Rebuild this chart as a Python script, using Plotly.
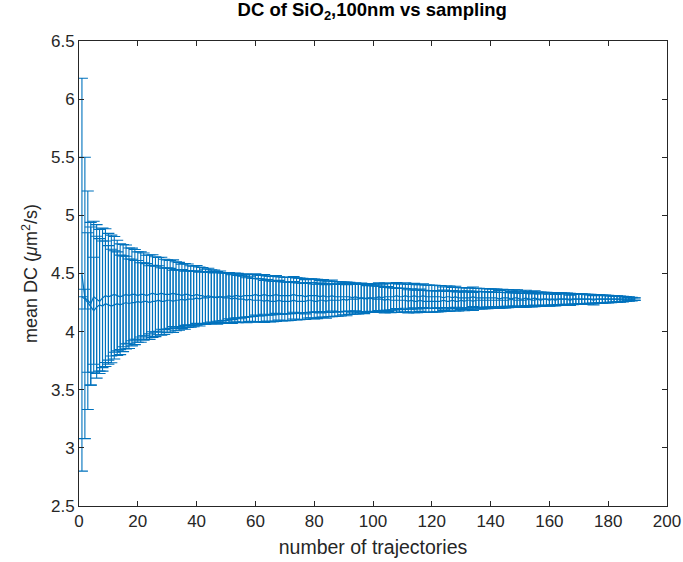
import plotly.graph_objects as go

# number of trajectories (x) for the two sampling sequences
n_traj = list(range(1, 190))

mean_a = [
    4.49, 4.29, 4.27, 4.24, 4.30, 4.28, 4.26, 4.29, 4.31, 4.30,
    4.31, 4.32, 4.31, 4.30, 4.31, 4.32, 4.31, 4.32, 4.32, 4.31,
    4.32, 4.32, 4.31, 4.32, 4.33, 4.32, 4.32, 4.33, 4.32, 4.32,
    4.32, 4.33, 4.32, 4.32, 4.31, 4.32, 4.32, 4.31, 4.31, 4.32,
    4.31, 4.31, 4.30, 4.31, 4.30, 4.30, 4.29, 4.30, 4.29, 4.29,
    4.29, 4.28, 4.29, 4.28, 4.28, 4.28, 4.27, 4.28, 4.27, 4.27,
    4.27, 4.27, 4.26, 4.27, 4.26, 4.26, 4.26, 4.27, 4.26, 4.26,
    4.26, 4.26, 4.27, 4.26, 4.26, 4.26, 4.26, 4.27, 4.27, 4.26,
    4.26, 4.27, 4.27, 4.26, 4.27, 4.27, 4.27, 4.27, 4.27, 4.28,
    4.27, 4.28, 4.28, 4.28, 4.28, 4.29, 4.28, 4.29, 4.29, 4.29,
    4.29, 4.30, 4.29, 4.30, 4.30, 4.30, 4.30, 4.31, 4.30, 4.30,
    4.31, 4.30, 4.30, 4.31, 4.30, 4.30, 4.31, 4.30, 4.30, 4.30,
    4.30, 4.30, 4.30, 4.29, 4.30, 4.30, 4.29, 4.30, 4.29, 4.29,
    4.29, 4.29, 4.29, 4.30, 4.29, 4.29, 4.29, 4.29, 4.29, 4.29,
    4.29, 4.29, 4.28, 4.29, 4.29, 4.29, 4.28, 4.29, 4.29, 4.28,
    4.28, 4.29, 4.28, 4.28, 4.29, 4.28, 4.28, 4.28, 4.28, 4.28,
    4.28, 4.28, 4.28, 4.28, 4.28, 4.28, 4.28, 4.28, 4.28, 4.28,
    4.28, 4.28, 4.28, 4.28, 4.27, 4.28, 4.28, 4.28, 4.28, 4.28,
    4.28, 4.28, 4.28, 4.28, 4.28, 4.28, 4.28, 4.28, 4.28,
]

err_a = [
    1.690, 1.210, 0.940, 0.700, 0.650, 0.640, 0.620, 0.600, 0.575, 0.545,
    0.520, 0.498, 0.476, 0.455, 0.440, 0.425, 0.410, 0.398, 0.386, 0.376,
    0.366, 0.356, 0.347, 0.339, 0.331, 0.324, 0.317, 0.310, 0.303, 0.297,
    0.292, 0.287, 0.281, 0.276, 0.271, 0.266, 0.262, 0.257, 0.253, 0.249,
    0.246, 0.242, 0.238, 0.235, 0.232, 0.229, 0.226, 0.222, 0.219, 0.216,
    0.212, 0.209, 0.206, 0.203, 0.200, 0.197, 0.194, 0.192, 0.189, 0.187,
    0.185, 0.183, 0.180, 0.178, 0.176, 0.174, 0.172, 0.171, 0.169, 0.167,
    0.165, 0.163, 0.161, 0.160, 0.158, 0.156, 0.155, 0.153, 0.152, 0.150,
    0.148, 0.147, 0.145, 0.144, 0.142, 0.141, 0.139, 0.138, 0.136, 0.135,
    0.134, 0.132, 0.131, 0.129, 0.128, 0.127, 0.125, 0.124, 0.123, 0.122,
    0.121, 0.119, 0.118, 0.117, 0.116, 0.115, 0.113, 0.112, 0.111, 0.110,
    0.109, 0.108, 0.106, 0.105, 0.104, 0.103, 0.102, 0.101, 0.100, 0.099,
    0.098, 0.097, 0.096, 0.094, 0.093, 0.092, 0.091, 0.090, 0.089, 0.088,
    0.087, 0.086, 0.085, 0.084, 0.083, 0.082, 0.081, 0.080, 0.079, 0.078,
    0.077, 0.076, 0.075, 0.074, 0.073, 0.072, 0.071, 0.070, 0.069, 0.068,
    0.067, 0.066, 0.065, 0.064, 0.062, 0.061, 0.060, 0.059, 0.058, 0.057,
    0.056, 0.055, 0.054, 0.053, 0.052, 0.051, 0.050, 0.048, 0.047, 0.046,
    0.045, 0.044, 0.042, 0.041, 0.040, 0.038, 0.037, 0.035, 0.034, 0.033,
    0.031, 0.029, 0.028, 0.026, 0.024, 0.021, 0.019, 0.016, 0.012,
]

mean_b = [
    4.30, 4.28, 4.25, 4.22, 4.18, 4.21, 4.23, 4.22, 4.24, 4.23,
    4.22, 4.23, 4.24, 4.23, 4.24, 4.25, 4.24, 4.25, 4.25, 4.26,
    4.25, 4.26, 4.26, 4.25, 4.26, 4.26, 4.27, 4.26, 4.26, 4.27,
    4.27, 4.26, 4.27, 4.27, 4.28, 4.27, 4.28, 4.28, 4.28, 4.29,
    4.28, 4.29, 4.29, 4.29, 4.30, 4.29, 4.30, 4.30, 4.30, 4.30,
    4.31, 4.30, 4.31, 4.31, 4.30, 4.31, 4.31, 4.31, 4.31, 4.32,
    4.31, 4.31, 4.32, 4.31, 4.31, 4.31, 4.32, 4.31, 4.31, 4.31,
    4.31, 4.31, 4.32, 4.31, 4.31, 4.31, 4.30, 4.31, 4.31, 4.31,
    4.31, 4.30, 4.31, 4.30, 4.30, 4.31, 4.30, 4.30, 4.30, 4.30,
    4.30, 4.30, 4.29, 4.30, 4.29, 4.29, 4.29, 4.28, 4.29, 4.28,
    4.28, 4.28, 4.28, 4.27, 4.28, 4.27, 4.27, 4.27, 4.27, 4.27,
    4.27, 4.26, 4.27, 4.26, 4.26, 4.27, 4.26, 4.26, 4.26, 4.26,
    4.26, 4.26, 4.26, 4.27, 4.26, 4.26, 4.27, 4.26, 4.26, 4.27,
    4.26, 4.27, 4.27, 4.26, 4.27, 4.27, 4.27, 4.27, 4.27, 4.27,
    4.27, 4.27, 4.27, 4.27, 4.27, 4.27, 4.28, 4.27, 4.27, 4.27,
    4.27, 4.27, 4.28, 4.27, 4.27, 4.28, 4.27, 4.28, 4.28, 4.27,
    4.28, 4.27, 4.28, 4.28, 4.28, 4.28, 4.27, 4.28, 4.28, 4.28,
    4.28, 4.28, 4.28, 4.28, 4.28, 4.28, 4.28, 4.28, 4.28, 4.28,
    4.28, 4.28, 4.28, 4.28, 4.28, 4.28, 4.28, 4.28, 4.28,
]

err_b = [
    0.000, 0.085, 0.600, 0.680, 0.460, 0.610, 0.570, 0.560, 0.540, 0.510,
    0.488, 0.466, 0.446, 0.428, 0.412, 0.398, 0.385, 0.373, 0.362, 0.352,
    0.342, 0.333, 0.325, 0.317, 0.310, 0.303, 0.297, 0.290, 0.285, 0.279,
    0.274, 0.268, 0.263, 0.258, 0.254, 0.250, 0.245, 0.241, 0.238, 0.234,
    0.231, 0.227, 0.224, 0.220, 0.217, 0.214, 0.211, 0.208, 0.205, 0.202,
    0.199, 0.197, 0.194, 0.191, 0.189, 0.187, 0.184, 0.182, 0.180, 0.178,
    0.176, 0.174, 0.171, 0.169, 0.167, 0.165, 0.163, 0.162, 0.160, 0.158,
    0.156, 0.155, 0.153, 0.152, 0.150, 0.148, 0.147, 0.145, 0.144, 0.142,
    0.140, 0.139, 0.137, 0.136, 0.134, 0.133, 0.131, 0.130, 0.128, 0.127,
    0.126, 0.124, 0.123, 0.121, 0.120, 0.119, 0.117, 0.116, 0.115, 0.114,
    0.113, 0.111, 0.110, 0.109, 0.108, 0.107, 0.105, 0.104, 0.103, 0.102,
    0.101, 0.100, 0.099, 0.098, 0.097, 0.096, 0.095, 0.094, 0.093, 0.092,
    0.091, 0.090, 0.089, 0.087, 0.086, 0.085, 0.084, 0.083, 0.082, 0.081,
    0.080, 0.079, 0.078, 0.077, 0.076, 0.075, 0.074, 0.073, 0.072, 0.071,
    0.070, 0.069, 0.068, 0.067, 0.066, 0.065, 0.064, 0.063, 0.062, 0.061,
    0.060, 0.059, 0.058, 0.057, 0.056, 0.055, 0.054, 0.053, 0.052, 0.051,
    0.050, 0.049, 0.048, 0.047, 0.046, 0.045, 0.044, 0.043, 0.042, 0.041,
    0.040, 0.039, 0.037, 0.036, 0.035, 0.034, 0.032, 0.031, 0.030, 0.028,
    0.027, 0.025, 0.024, 0.022, 0.020, 0.018, 0.015, 0.012, 0.009,
]

x_ticks = [0, 20, 40, 60, 80, 100, 120, 140, 160, 180, 200]
y_ticks = [2.5, 3, 3.5, 4, 4.5, 5, 5.5, 6, 6.5]

BLUE = "#0072BD"
AXC = "#262626"
FONT = "Liberation Sans, Arial, Helvetica, sans-serif"

fig = go.Figure()
for means, errs in ((mean_a, err_a), (mean_b, err_b)):
    fig.add_trace(go.Scatter(
        x=n_traj, y=means, mode="lines",
        line=dict(color=BLUE, width=1.2),
        error_y=dict(type="data", array=errs, visible=True,
                     color=BLUE, thickness=1.1, width=6),
        showlegend=False, hoverinfo="x+y",
    ))

axis_common = dict(
    showline=True, linecolor=AXC, linewidth=1, mirror="ticks",
    ticks="inside", ticklen=5, tickcolor=AXC, tickwidth=1,
    showgrid=False, zeroline=False, automargin=False,
    tickfont=dict(family=FONT, size=17, color=AXC),
)

fig.update_layout(
    width=683, height=562,
    paper_bgcolor="white", plot_bgcolor="white",
    margin=dict(l=79, r=16, t=41, b=56),
    title=dict(
        text="<b>DC of SiO<sub>2</sub>,100nm vs sampling</b>",
        x=0.545, xanchor="center", y=0.995, yanchor="top",
        font=dict(family=FONT, size=18.5, color="black"),
    ),
    xaxis=dict(range=[0, 200], tickvals=x_ticks,
               title=dict(text="number of trajectories", standoff=9,
                          font=dict(family=FONT, size=19.5, color=AXC)),
               **axis_common),
    yaxis=dict(range=[2.5, 6.5], tickvals=y_ticks,
               ticktext=[f"{v:g}" for v in y_ticks],
               title=dict(text="mean DC (<i>μ</i>m<sup>2</sup>/s)", standoff=8,
                          font=dict(family=FONT, size=18, color=AXC)),
               **axis_common),
)

fig.write_html(
    "out.html",
    config={"displayModeBar": False},
    post_script="document.body.style.margin='0';document.body.style.overflow='hidden';",
)
